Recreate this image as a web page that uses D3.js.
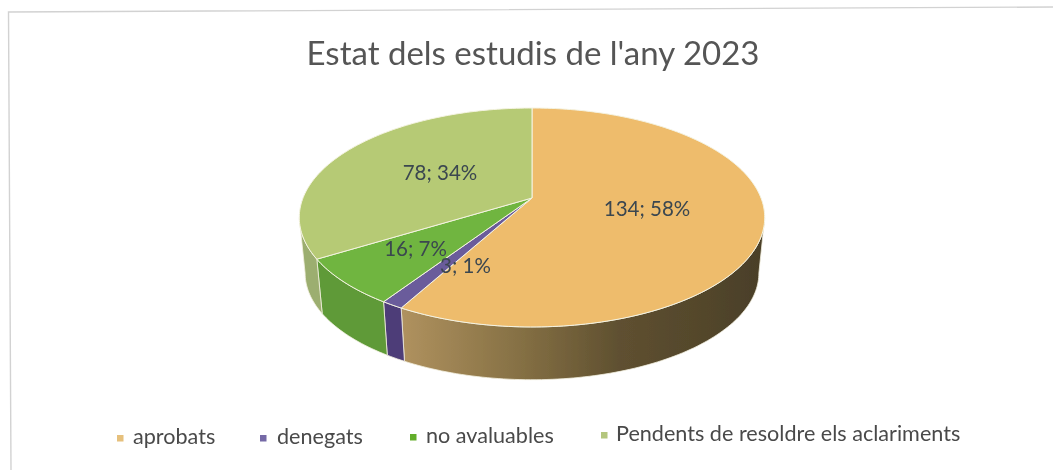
<!DOCTYPE html>
<html>
<head>
<meta charset="utf-8">
<script src="https://cdn.jsdelivr.net/npm/d3@7"></script>
<style>
  html, body { margin: 0; padding: 0; background: #fff; }
  svg { display: block; }
  text { font-family: Lato, "Open Sans", sans-serif; }
</style>
</head>
<body>
<div id="chart"></div>
<script>
const categories = ['aprobats', 'denegats', 'no avaluables', 'Pendents de resoldre els aclariments']
const values = [134, 3, 16, 78]
const labels = ['134; 58%', '3; 1%', '16; 7%', '78; 34%']
const topColors = ['#eebc6c', '#6a5b9b', '#70b53f', '#b6ca74']
const legendColors = ['#e6c07c', '#7569a6', '#62ad2c', '#b4c67e']
const wallColors = [['#b0925f', '#857044', '#5f5030', '#4a3f28'], ['#4d3c78', '#4d3c78'], ['#5f9a38', '#5f9a38'], ['#9cae6f', '#9cae6f']]
const wallStops = [[0, 0.33, 0.6, 1], [0, 1], [0, 1], [0, 1]]

const WIDTH = 1053, HEIGHT = 470

const svg = d3.select('#chart').append('svg')
    .attr('width', WIDTH)
    .attr('height', HEIGHT)

const defs = svg.append('defs')

// the source is a scan, everything is a little soft
defs.append('filter')
    .attr('id', 'scan')
    .append('feGaussianBlur')
    .attr('stdDeviation', 0.45)

const page = svg.append('g').attr('filter', 'url(#scan)')

// frame of the scanned chart, slightly skewed
page.append('path')
    .attr('d', 'M11,470L8.5,12L1053,7')
    .attr('fill', 'none')
    .attr('stroke', '#d2d2d2')
    .attr('stroke-width', 1.4)

// the pie lies flat and is seen in perspective
const CX = 532, CY = 198, RX = 229, RY = 106, TILT = 0.178
const DEPTH = 56, SHRINK = 0.975

function project(a, floor=0) {
    const u = Math.sin(a), v = Math.cos(a)
    const w = 1 + TILT * v
    const s = floor ? SHRINK : 1
    return [CX + s * RX * u / w, CY - s * RY * v / w + floor * DEPTH]
}

function arcPoints(a0, a1, floor=0) {
    const n = Math.max(2, Math.ceil((a1 - a0) / 0.02))
    return d3.range(n + 1).map(i => project(a0 + (a1 - a0) * i / n, floor))
}

const line = d3.line()
const pie = d3.pie().sort(null)
const slices = pie(values)

wallColors.forEach((stops, i) => {
    const grad = defs.append('linearGradient')
        .attr('id', `wall-${i}`)
        .attr('gradientUnits', 'userSpaceOnUse')
        .attr('x1', 400).attr('x2', 765).attr('y1', 0).attr('y2', 0)
    stops.forEach((c, j) => {
        grad.append('stop')
            .attr('offset', wallStops[i][j])
            .attr('stop-color', c)
    })
})

// outer walls, only the part that faces the viewer
const FRONT_START = Math.PI / 2 + 0.18, FRONT_END = 3 * Math.PI / 2 - 0.18
const walls = page.append('g')
slices.forEach((d, i) => {
    const a0 = Math.max(d.startAngle, FRONT_START)
    const a1 = Math.min(d.endAngle, FRONT_END)
    if (a1 <= a0) return
    const pts = arcPoints(a0, a1).concat(arcPoints(a0, a1, 1).reverse())
    walls.append('path')
        .attr('d', line(pts) + 'Z')
        .attr('fill', `url(#wall-${i})`)
        .attr('stroke', '#f3f0e0')
        .attr('stroke-width', 0.8)
})

// top face
page.append('g').selectAll('path')
    .data(slices)
    .join('path')
        .attr('d', d => line([[CX, CY], ...arcPoints(d.startAngle, d.endAngle)]) + 'Z')
        .attr('fill', (d, i) => topColors[i])
        .attr('stroke', '#f4f3e2')
        .attr('stroke-width', 1)
        .attr('stroke-linejoin', 'round')

// data labels
const labelAnchors = [[647, 211], [465.5, 268], [415.5, 251], [440, 175]]
page.append('g').selectAll('text')
    .data(labels)
    .join('text')
        .attr('x', (d, i) => labelAnchors[i][0])
        .attr('y', (d, i) => labelAnchors[i][1])
        .attr('text-anchor', 'middle')
        .attr('dominant-baseline', 'middle')
        .attr('font-size', 20.5)
        .attr('fill', '#3a4650')
        .text(d => d)

// title
page.append('text')
    .attr('x', 533)
    .attr('y', 65)
    .attr('text-anchor', 'middle')
    .attr('font-size', 33)
    .attr('fill', '#555555')
    .text("Estat dels estudis de l'any 2023")

// legend
const legendX = [117, 260, 410, 601]
const legendTextX = [133, 277, 426, 616]
const legendBaseline = [444, 444, 443, 441]
const legend = page.append('g')
legend.selectAll('rect')
    .data(categories)
    .join('rect')
        .attr('x', (d, i) => legendX[i])
        .attr('y', (d, i) => legendBaseline[i] - 9)
        .attr('width', 6.5)
        .attr('height', 6.5)
        .attr('fill', (d, i) => legendColors[i])
legend.selectAll('text')
    .data(categories)
    .join('text')
        .attr('x', (d, i) => legendTextX[i])
        .attr('y', (d, i) => legendBaseline[i])
        .attr('font-size', 21.6)
        .attr('fill', '#4a4a4a')
        .text(d => d)
</script>
</body>
</html>
